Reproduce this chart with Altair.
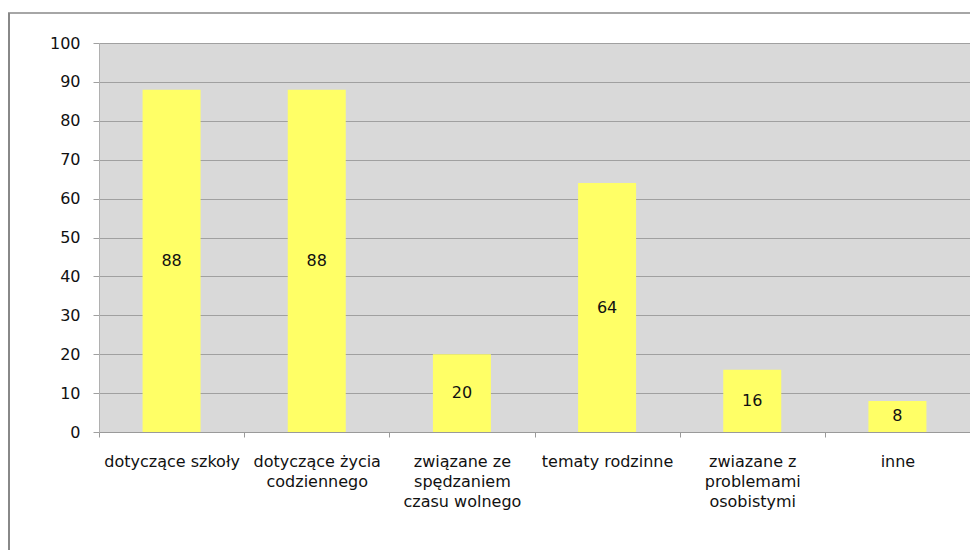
import altair as alt
import pandas as pd

categories = [
    "dotyczące szkoły",
    "dotyczące życia\ncodziennego",
    "związane ze\nspędzaniem\nczasu wolnego",
    "tematy rodzinne",
    "zwiazane z\nproblemami\nosobistymi",
    "inne",
]
values = [88, 88, 20, 64, 16, 8]
y_ticks = list(range(0, 101, 10))

df = pd.DataFrame({"kategoria": categories, "wartosc": values})

FONT = "DejaVu Sans"

x_axis = alt.Axis(
    title=None,
    labelAngle=0,
    labelExpr="split(datum.label, '\\n')",
    labelFont=FONT,
    labelFontSize=16,
    labelColor="#111111",
    labelLineHeight=20,
    labelPadding=16,
    labelOverlap=False,
    tickBand="extent",
    tickSize=5,
    tickColor="#9a9a9a",
    domainColor="#9a9a9a",
    grid=False,
)
x_scale = alt.Scale(paddingInner=0, paddingOuter=0)

y_axis = alt.Axis(
    title=None,
    values=y_ticks,
    labelOverlap=False,
    labelFont=FONT,
    labelFontSize=16,
    labelColor="#111111",
    labelPadding=13,
    tickSize=6,
    tickColor="#a0a0a0",
    domainColor="#b0b0b0",
    gridColor="#a0a0a0",
    gridWidth=1,
)
y_scale = alt.Scale(domain=[0, 100], nice=False)

base = alt.Chart(df)

bars = base.mark_bar(color="#FFFF66", size=58).encode(
    x=alt.X("kategoria:N", sort=categories, scale=x_scale, axis=x_axis),
    y=alt.Y("wartosc:Q", scale=y_scale, axis=y_axis),
)

labels = (
    base.transform_calculate(mid="datum.wartosc / 2")
    .mark_text(font=FONT, fontSize=16, color="#111111", baseline="middle")
    .encode(
        x=alt.X("kategoria:N", sort=categories, scale=x_scale, axis=x_axis),
        y=alt.Y("mid:Q", scale=y_scale, axis=y_axis),
        text=alt.Text("wartosc:Q"),
    )
)

frame_data = alt.Data(values=[{"a": 1}])
frame_left = alt.Chart(frame_data).mark_rule(color="#888888", strokeWidth=2).encode(
    x=alt.value(-90), y=alt.value(-30), y2=alt.value(560)
)
frame_top = alt.Chart(frame_data).mark_rule(color="#888888", strokeWidth=1.5).encode(
    x=alt.value(-91), x2=alt.value(900), y=alt.value(-30)
)

chart = (
    alt.layer(bars, labels, frame_left, frame_top)
    .properties(
        width=871,
        height=389,
        autosize=alt.AutoSizeParams(type="none"),
        padding={"left": 91, "top": 35, "right": 0, "bottom": 118},
        background="white",
    )
    .configure_view(fill="#D9D9D9", strokeWidth=0)
)

chart.save("out.html", embed_options={"renderer": "svg", "actions": False})
